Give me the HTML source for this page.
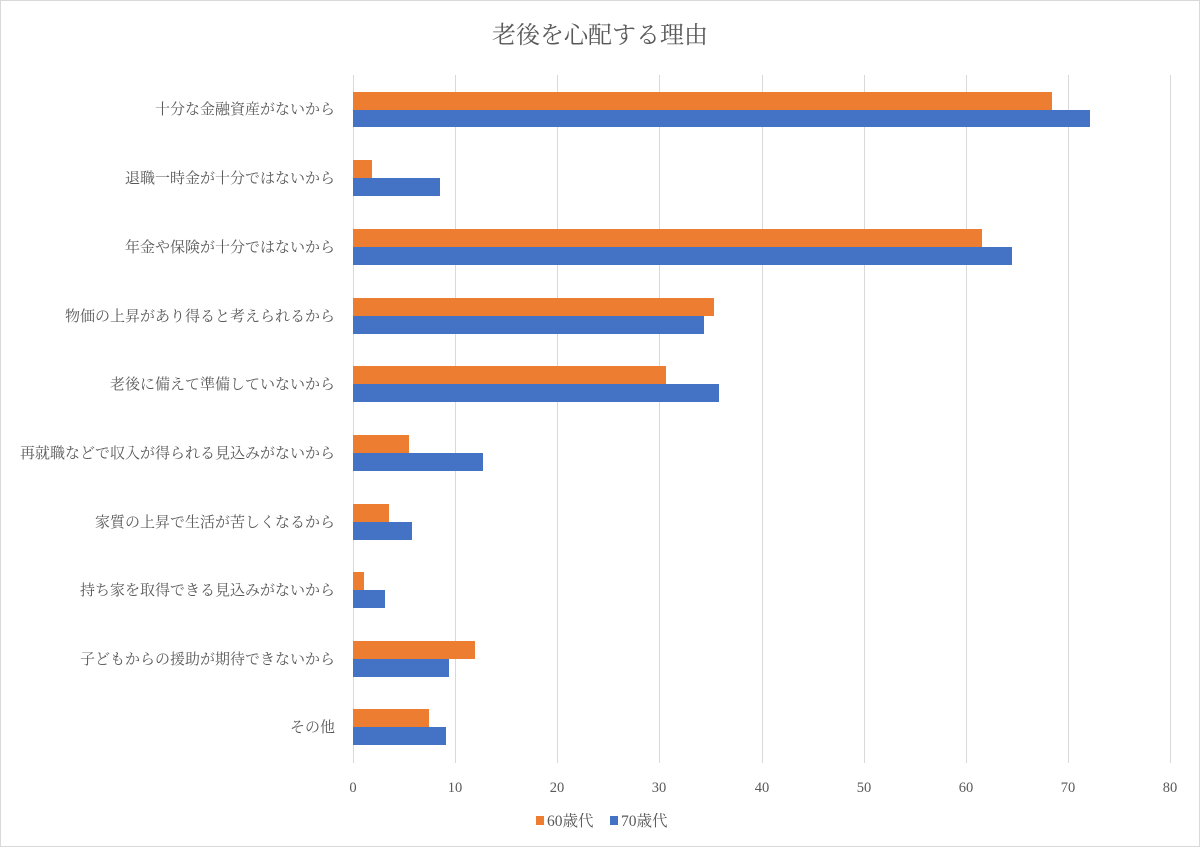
<!DOCTYPE html>
<html><head><meta charset="utf-8"><style>
html,body{margin:0;padding:0;background:#fff;}
svg{display:block;font-family:"Liberation Serif","Noto Serif CJK JP",serif;}
</style></head><body>
<svg width="1200" height="847" viewBox="0 0 1200 847" xmlns="http://www.w3.org/2000/svg">
<rect x="0.5" y="0.5" width="1199" height="846" fill="#fff" stroke="#d9d9d9"/>
<text x="600" y="43" text-anchor="middle" font-size="24" fill="#595959">老後を心配する理由</text>
<g stroke="#d9d9d9" stroke-width="1">
<line x1="353.5" y1="75" x2="353.5" y2="763"/>
<line x1="455.5" y1="75" x2="455.5" y2="763"/>
<line x1="557.5" y1="75" x2="557.5" y2="763"/>
<line x1="659.5" y1="75" x2="659.5" y2="763"/>
<line x1="762.5" y1="75" x2="762.5" y2="763"/>
<line x1="864.5" y1="75" x2="864.5" y2="763"/>
<line x1="966.5" y1="75" x2="966.5" y2="763"/>
<line x1="1068.5" y1="75" x2="1068.5" y2="763"/>
<line x1="1170.5" y1="75" x2="1170.5" y2="763"/>
</g>
<g font-size="14.5" fill="#595959" text-anchor="middle">
<text x="353" y="792">0</text><text x="455" y="792">10</text><text x="557" y="792">20</text><text x="659" y="792">30</text><text x="762" y="792">40</text><text x="864" y="792">50</text><text x="966" y="792">60</text><text x="1068" y="792">70</text><text x="1170" y="792">80</text>
</g>
<g>
<rect x="353" y="92" width="699" height="18" fill="#ed7d31"/><rect x="353" y="110" width="737" height="17" fill="#4472c4"/>
<rect x="353" y="160" width="19" height="18" fill="#ed7d31"/><rect x="353" y="178" width="87" height="18" fill="#4472c4"/>
<rect x="353" y="229" width="629" height="18" fill="#ed7d31"/><rect x="353" y="247" width="659" height="18" fill="#4472c4"/>
<rect x="353" y="298" width="361" height="18" fill="#ed7d31"/><rect x="353" y="316" width="351" height="18" fill="#4472c4"/>
<rect x="353" y="366" width="313" height="18" fill="#ed7d31"/><rect x="353" y="384" width="366" height="18" fill="#4472c4"/>
<rect x="353" y="435" width="56" height="18" fill="#ed7d31"/><rect x="353" y="453" width="130" height="18" fill="#4472c4"/>
<rect x="353" y="504" width="36" height="18" fill="#ed7d31"/><rect x="353" y="522" width="59" height="18" fill="#4472c4"/>
<rect x="353" y="572" width="11" height="18" fill="#ed7d31"/><rect x="353" y="590" width="32" height="18" fill="#4472c4"/>
<rect x="353" y="641" width="122" height="18" fill="#ed7d31"/><rect x="353" y="659" width="96" height="18" fill="#4472c4"/>
<rect x="353" y="709" width="76" height="18" fill="#ed7d31"/><rect x="353" y="727" width="93" height="18" fill="#4472c4"/>
</g>
<g font-size="15" fill="#595959" text-anchor="end">
<text x="335" y="114">十分な金融資産がないから</text>
<text x="335" y="183">退職一時金が十分ではないから</text>
<text x="335" y="252">年金や保険が十分ではないから</text>
<text x="335" y="321">物価の上昇があり得ると考えられるから</text>
<text x="335" y="389">老後に備えて準備していないから</text>
<text x="335" y="458">再就職などで収入が得られる見込みがないから</text>
<text x="335" y="527">家質の上昇で生活が苦しくなるから</text>
<text x="335" y="595">持ち家を取得できる見込みがないから</text>
<text x="335" y="664">子どもからの援助が期待できないから</text>
<text x="335" y="732">その他</text>
</g>
<rect x="536" y="816" width="8" height="9" fill="#ed7d31"/>
<text x="547" y="826" font-size="15.5" fill="#595959">60歳代</text>
<rect x="610" y="816" width="8" height="9" fill="#4472c4"/>
<text x="621" y="826" font-size="15.5" fill="#595959">70歳代</text>
</svg>
</body></html>
